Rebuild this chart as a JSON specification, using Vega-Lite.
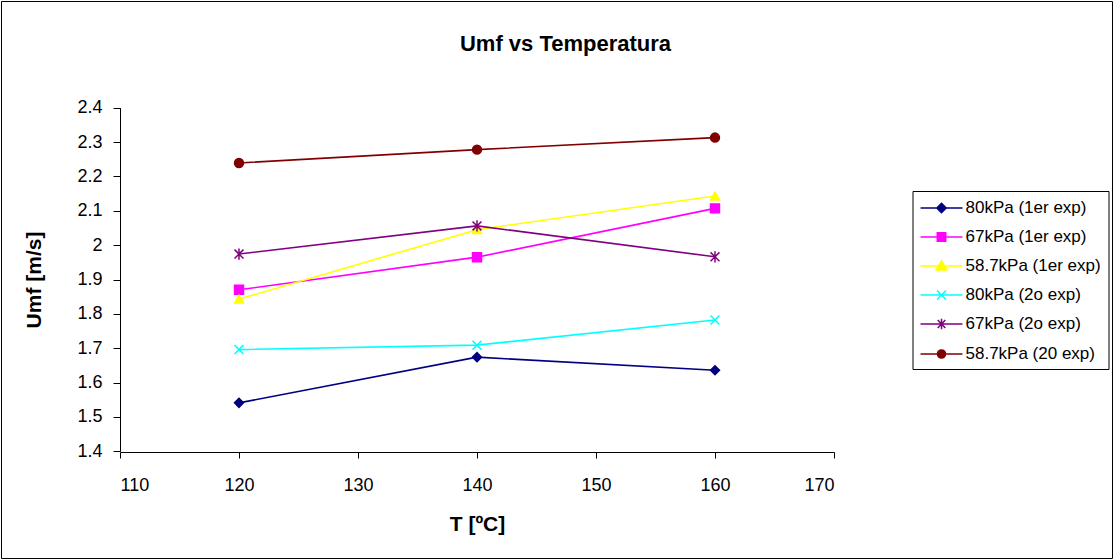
{
  "$schema": "https://vega.github.io/schema/vega-lite/v6.json",
  "autosize": "none",
  "width": 1111,
  "height": 557,
  "padding": 1,
  "background": "white",
  "title": {
    "text": "Umf vs Temperatura",
    "font": "Liberation Sans",
    "fontSize": 22,
    "fontWeight": "bold",
    "color": "black",
    "anchor": "middle",
    "frame": "group",
    "offset": -55,
    "dx": 9
  },
  "data": {
    "values": [
      {"T": 120, "U": 1.541, "serie": "80kPa (1er exp)"},
      {"T": 140, "U": 1.674, "serie": "80kPa (1er exp)"},
      {"T": 160, "U": 1.636, "serie": "80kPa (1er exp)"},
      {"T": 120, "U": 1.870, "serie": "67kPa (1er exp)"},
      {"T": 140, "U": 1.965, "serie": "67kPa (1er exp)"},
      {"T": 160, "U": 2.107, "serie": "67kPa (1er exp)"},
      {"T": 120, "U": 1.843, "serie": "58.7kPa (1er exp)"},
      {"T": 140, "U": 2.045, "serie": "58.7kPa (1er exp)"},
      {"T": 160, "U": 2.143, "serie": "58.7kPa (1er exp)"},
      {"T": 120, "U": 1.696, "serie": "80kPa (2o exp)"},
      {"T": 140, "U": 1.709, "serie": "80kPa (2o exp)"},
      {"T": 160, "U": 1.782, "serie": "80kPa (2o exp)"},
      {"T": 120, "U": 1.974, "serie": "67kPa (2o exp)"},
      {"T": 140, "U": 2.056, "serie": "67kPa (2o exp)"},
      {"T": 160, "U": 1.966, "serie": "67kPa (2o exp)"},
      {"T": 120, "U": 2.239, "serie": "58.7kPa (20 exp)"},
      {"T": 140, "U": 2.278, "serie": "58.7kPa (20 exp)"},
      {"T": 160, "U": 2.313, "serie": "58.7kPa (20 exp)"}
    ]
  },
  "encoding": {
    "x": {
      "field": "T",
      "type": "quantitative",
      "scale": {"domain": [110, 170], "range": [119, 833], "nice": false, "zero": false},
      "axis": {
        "title": "T [ºC]",
        "values": [110, 120, 130, 140, 150, 160, 170],
        "offset": -106,
        "grid": false,
        "domainColor": "black",
        "tickColor": "black",
        "tickSize": 6,
        "labelFont": "Liberation Sans",
        "labelFontSize": 18,
        "labelColor": "black",
        "labelPadding": 18,
        "titleFont": "Liberation Sans",
        "titleFontSize": 21,
        "titleFontWeight": "bold",
        "titleColor": "black",
        "titlePadding": 19
      }
    },
    "y": {
      "field": "U",
      "type": "quantitative",
      "scale": {"domain": [1.4, 2.4], "range": [450.3, 106.7], "nice": false, "zero": false},
      "axis": {
        "title": "Umf [m/s]",
        "values": [1.4, 1.5, 1.6, 1.7, 1.8, 1.9, 2.0, 2.1, 2.2, 2.3, 2.4],
        "format": ".2~f",
        "offset": -119,
        "grid": false,
        "domainColor": "black",
        "tickColor": "black",
        "tickSize": 7,
        "labelFont": "Liberation Sans",
        "labelFontSize": 18,
        "labelColor": "black",
        "labelPadding": 11,
        "titleFont": "Liberation Sans",
        "titleFontSize": 21,
        "titleFontWeight": "bold",
        "titleColor": "black",
        "titlePadding": 32
      }
    }
  },
  "resolve": {"legend": {"color": "independent"}},
  "layer": [
    {
      "mark": {"type": "line", "strokeWidth": 1.6},
      "encoding": {
        "color": {
          "field": "serie",
          "type": "nominal",
          "scale": {
            "domain": ["80kPa (1er exp)", "67kPa (1er exp)", "58.7kPa (1er exp)", "80kPa (2o exp)", "67kPa (2o exp)", "58.7kPa (20 exp)"],
            "range": ["#000080", "#FF00FF", "#FFFF00", "#00FFFF", "#800080", "#800000"]
          },
          "legend": {
            "title": null,
            "orient": "none",
            "legendX": 911.5,
            "legendY": 190,
            "padding": 7,
            "strokeColor": "black",
            "fillColor": "white",
            "symbolSize": 324,
            "symbolOffset": 12,
            "symbolStrokeWidth": 1.5,
            "labelFont": "Liberation Sans",
            "labelFontSize": 17,
            "labelColor": "black",
            "labelOffset": 14,
            "labelLimit": 300,
            "rowPadding": 11,
            "encode": {
              "symbols": {
                "update": {
                  "shape": {"signal": "['M-2.33,0H2.33M0,-0.52L0.52,0L0,0.52L-0.52,0Z','M-2.33,0H2.33M-0.47,-0.47H0.47V0.47H-0.47Z','M-2.33,0H2.33M0,-0.58L0.6,0.44H-0.6Z','M-2.33,0H2.33M-0.5,-0.5L0.5,0.5M-0.5,0.5L0.5,-0.5','M-2.33,0H2.33M-0.42,-0.45L0.42,0.45M-0.42,0.45L0.42,-0.45M0,-0.58V0.58','M-2.33,0H2.33M0.45,0A0.45,0.45,0,1,1,-0.45,0A0.45,0.45,0,1,1,0.45,0Z'][indexof(domain('color'), datum.value)]"},
                  "fill": {"signal": "scale('color', datum.value)"},
                  "stroke": {"signal": "scale('color', datum.value)"},
                  "strokeWidth": {"value": 1.5},
                  "opacity": {"value": 1}
                }
              }
            }
          }
        },
        "order": {"field": "T", "type": "quantitative"}
      }
    },
    {
      "mark": {"type": "point", "filled": true, "opacity": 1, "size": 80, "strokeWidth": 1.5},
      "encoding": {
        "color": {"field": "serie", "type": "nominal", "legend": null},
        "stroke": {
          "field": "serie",
          "type": "nominal",
          "scale": {
            "domain": ["80kPa (1er exp)", "67kPa (1er exp)", "58.7kPa (1er exp)", "80kPa (2o exp)", "67kPa (2o exp)", "58.7kPa (20 exp)"],
            "range": ["#000080", "#FF00FF", "#FFFF00", "#00FFFF", "#800080", "#800000"]
          },
          "legend": null
        },
        "shape": {
          "field": "serie",
          "type": "nominal",
          "scale": {
            "domain": ["80kPa (1er exp)", "67kPa (1er exp)", "58.7kPa (1er exp)", "80kPa (2o exp)", "67kPa (2o exp)", "58.7kPa (20 exp)"],
            "range": ["diamond", "square", "triangle-up", "M-1,-1L1,1M-1,1L1,-1", "M-1,-1L1,1M-1,1L1,-1M0,-1.25V1.25", "circle"]
          },
          "legend": null
        }
      }
    }
  ],
  "config": {
    "font": "Liberation Sans",
    "view": {"stroke": "black", "strokeWidth": 1}
  }
}
